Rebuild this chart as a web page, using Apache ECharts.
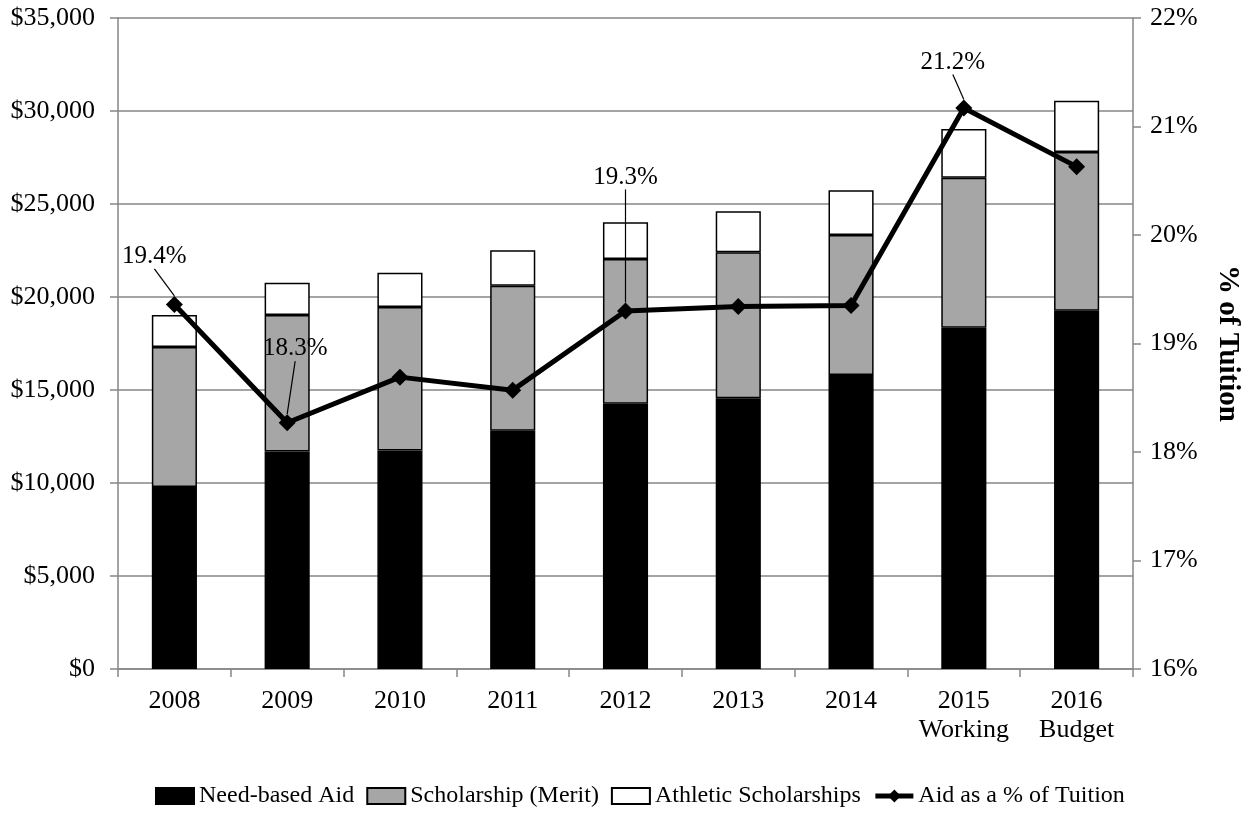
<!DOCTYPE html>
<html>
<head>
<meta charset="utf-8">
<title>Financial Aid</title>
<script src="https://cdn.jsdelivr.net/npm/echarts@6/dist/echarts.min.js"></script>
<style>
  html, body { margin: 0; padding: 0; background: #fff; }
  #chart { width: 1250px; height: 834px; }
</style>
</head>
<body>
<div id="chart"></div>
<script>
// Fiscal years on the category axis
const years = ['2008', '2009', '2010', '2011', '2012', '2013', '2014', '2015\nWorking', '2016\nBudget'];

// Aid dollars (stacked bars)
const needBased = [9780, 11700, 11750, 12810, 14260, 14550, 15810, 18350, 19260];
const merit = [7530, 7330, 7710, 7800, 7780, 7850, 7520, 8060, 8540];
const athletic = [1720, 1740, 1850, 1900, 1980, 2210, 2410, 2620, 2750];

// Total aid as a percentage of tuition (line, right axis)
const pctOfTuition = [19.36, 18.27, 18.69, 18.57, 19.30, 19.34, 19.35, 21.17, 20.63];

// Years that carry a data label on the line, with label offsets
const labelledPoints = { 0: [-20, -48], 1: [8, -74], 4: [0, -134], 7: [-11, -46] };

const FONT = 'Liberation Serif';
const AXIS_GRAY = '#868686';
const AXIS_FONT = 26;

const chart = echarts.init(document.getElementById('chart'), null, { renderer: 'canvas' });

const barBorder = { borderColor: '#000', borderWidth: 1.5 };

chart.setOption({
  animation: false,
  textStyle: { fontFamily: FONT, color: '#000' },
  grid: { left: 118, right: 115, top: 18, bottom: 165 },
  legend: {
    bottom: 21,
    left: 150,
    itemWidth: 38,
    itemHeight: 16,
    itemGap: 12,
    lineStyle: { width: 5 },
    textStyle: { fontFamily: FONT, fontSize: 24, color: '#000' },
    data: [
      { name: 'Need-based Aid', icon: 'rect' },
      { name: 'Scholarship (Merit)', icon: 'rect' },
      { name: 'Athletic Scholarships', icon: 'rect' },
      { name: 'Aid as a % of Tuition' }
    ]
  },
  xAxis: {
    type: 'category',
    data: years,
    axisLine: { lineStyle: { color: AXIS_GRAY, width: 1.5 } },
    axisTick: { show: true, interval: 0, length: 8, lineStyle: { color: AXIS_GRAY, width: 1.5 } },
    axisLabel: { interval: 0, fontFamily: FONT, fontSize: AXIS_FONT, color: '#000', margin: 18, lineHeight: 29 }
  },
  yAxis: [
    {
      type: 'value',
      min: 0,
      max: 35000,
      interval: 5000,
      axisLine: { show: true, lineStyle: { color: AXIS_GRAY, width: 1.5 } },
      axisTick: { show: true, length: 8, lineStyle: { color: AXIS_GRAY, width: 1.5 } },
      splitLine: { show: true, lineStyle: { color: AXIS_GRAY, width: 1.5 } },
      axisLabel: {
        fontFamily: FONT, fontSize: AXIS_FONT, color: '#000', margin: 23,
        formatter: v => '$' + v.toLocaleString('en-US')
      }
    },
    {
      type: 'value',
      min: 16,
      max: 22,
      interval: 1,
      position: 'right',
      name: '% of Tuition',
      nameLocation: 'middle',
      nameRotate: -90,
      nameGap: 80,
      nameTextStyle: { fontFamily: FONT, fontSize: 29, fontWeight: 'bold', color: '#000' },
      axisLine: { show: true, lineStyle: { color: AXIS_GRAY, width: 1.5 } },
      axisTick: { show: true, length: 8, lineStyle: { color: AXIS_GRAY, width: 1.5 } },
      splitLine: { show: false },
      axisLabel: { fontFamily: FONT, fontSize: AXIS_FONT, color: '#000', margin: 17, formatter: '{value}%' }
    }
  ],
  series: [
    {
      name: 'Need-based Aid',
      type: 'bar',
      stack: 'aid',
      barWidth: '40%',
      itemStyle: Object.assign({ color: '#000' }, barBorder),
      data: needBased
    },
    {
      name: 'Scholarship (Merit)',
      type: 'bar',
      stack: 'aid',
      barWidth: '40%',
      itemStyle: Object.assign({ color: '#a6a6a6' }, barBorder),
      data: merit
    },
    {
      name: 'Athletic Scholarships',
      type: 'bar',
      stack: 'aid',
      barWidth: '40%',
      itemStyle: Object.assign({ color: '#fff' }, barBorder),
      data: athletic
    },
    {
      name: 'Aid as a % of Tuition',
      type: 'line',
      yAxisIndex: 1,
      symbol: 'diamond',
      symbolSize: 17,
      z: 5,
      lineStyle: { color: '#000', width: 5 },
      itemStyle: { color: '#000' },
      data: pctOfTuition.map((v, i) => ({
        value: v,
        label: {
          show: i in labelledPoints,
          position: 'inside',
          fontFamily: FONT,
          fontSize: 25,
          color: '#000',
          formatter: p => p.value.toFixed(1) + '%'
        }
      })),
      labelLine: { show: true, lineStyle: { color: '#000', width: 1.2 } },
      labelLayout: p => {
        const off = labelledPoints[p.dataIndex];
        return off ? { dx: off[0], dy: off[1] } : {};
      }
    }
  ]
});
</script>
</body>
</html>
